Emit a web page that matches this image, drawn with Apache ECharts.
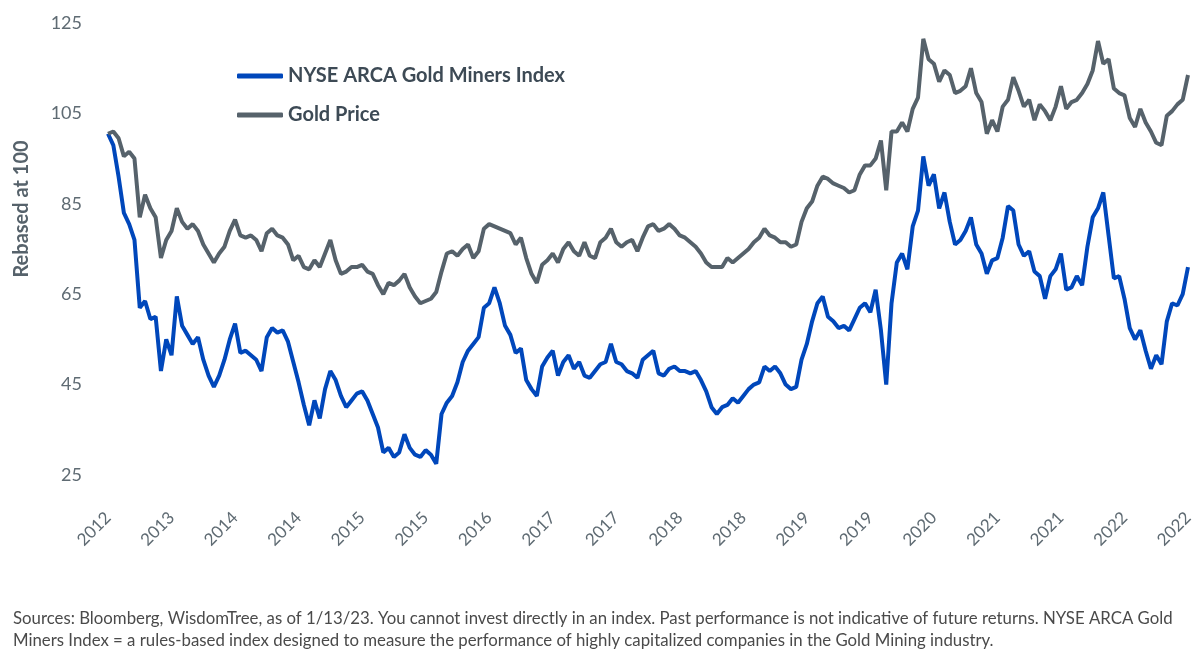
<!DOCTYPE html>
<html>
<head>
<meta charset="utf-8">
<script src="https://cdn.jsdelivr.net/npm/echarts@6/dist/echarts.min.js"></script>
<style>
  html, body { margin: 0; padding: 0; background: #fff; }
  #chart { width: 1200px; height: 657px; }
</style>
</head>
<body>
<div id="chart"></div>
<script>
// tick labels along the bottom (one every 12 points)
var xTickLabels = ['2012','2013','2014','2014','2015','2015','2016','2017','2017',
  '2018','2018','2019','2019','2020','2021','2021','2022','2022'];

// NYSE ARCA Gold Miners Index, rebased at 100
var minersIndex = [
  100.5, 98, 91, 83, 80.5, 77, 62, 63.5, 59.5, 60,
  48, 55, 51.5, 64.5, 58, 56, 54, 55.5, 50.5, 47,
  44.5, 47, 50.5, 55, 58.5, 52, 52.5, 51.5, 50.5, 48,
  55.5, 57.5, 56.5, 57, 54.5, 50, 45.5, 40.5, 36, 41.5,
  37.5, 44, 48, 46, 42.5, 40, 41.5, 43, 43.5, 41.5,
  38.5, 35.5, 30, 31, 29, 30, 34, 31, 29.5, 29,
  30.5, 29.5, 27.5, 38.5, 41, 42.5, 45.5, 50, 52.5, 54,
  55.5, 62, 63, 66.5, 63, 58, 56, 52, 53, 46,
  44, 42.5, 49, 51, 52.5, 47, 50, 51.5, 48.5, 50,
  47, 46.5, 48, 49.5, 50, 54, 50, 49.5, 48, 47.5,
  46.5, 50.5, 51.5, 52.5, 47.5, 47, 48.5, 49, 48, 48,
  47.5, 48, 46, 43.5, 40, 38.5, 40, 40.5, 42, 41,
  42.5, 44, 45, 45.5, 49, 48, 49, 47.5, 45, 44,
  44.5, 50.5, 54, 59, 63, 64.5, 60, 59, 57.5, 58,
  57, 59.5, 62, 63, 61, 66, 57, 45, 63, 72,
  74, 70.5, 80, 83.5, 95.5, 89, 91.5, 84, 87.5, 81,
  76, 77, 79, 82, 76, 74, 69.5, 72.5, 73, 77.5,
  84.5, 83.5, 76, 73.5, 74.5, 70, 69, 64, 69, 70.5,
  74, 66, 66.5, 69, 67, 75.5, 82, 84, 87.5, 78,
  68.5, 69, 64, 57.5, 55, 57, 52.5, 48.5, 51.5, 49.5,
  59, 63, 62.5, 65, 71
];

// Gold price, rebased at 100
var goldPrice = [
  100.5, 101, 99.5, 95.5, 96.5, 95, 82, 87, 84, 82,
  73, 77, 79, 84, 81, 79.5, 80.5, 79, 76, 74,
  72, 74, 75.5, 79, 81.5, 78, 77.5, 78, 77, 74.5,
  78.5, 79.5, 78, 77.5, 76, 72.5, 73.5, 71, 70.5, 72.5,
  71, 74, 77, 72.5, 69.5, 70, 71, 71, 71.5, 70,
  69.5, 67, 65, 67.5, 67, 68, 69.5, 66.5, 64.5, 63,
  63.5, 64, 65.5, 70, 74, 74.5, 73.5, 75, 76, 73,
  74.5, 79.5, 80.5, 80, 79.5, 79, 78.5, 76, 77.5, 73,
  69.5, 67.5, 71.5, 72.5, 74, 72, 75, 76.5, 74.5, 73.5,
  76.5, 73.5, 73, 76.5, 77.5, 79.5, 76.5, 75.5, 76.5, 77,
  74.5, 77.5, 80, 80.5, 79, 79.5, 80.5, 79.5, 78, 77.5,
  76.5, 75.5, 74, 72, 71, 71, 71, 73, 72, 73,
  74, 75, 76.5, 77.5, 79.5, 78, 77.5, 76.5, 76.5, 75.5,
  76, 81, 84, 85.5, 89, 91, 90.5, 89.5, 89, 88.5,
  87.5, 88, 91.5, 93.5, 93.5, 95, 99, 88, 101, 101,
  103, 101, 106, 108.5, 121.5, 117, 116, 112, 114.5, 113.5,
  109.5, 110, 111, 115, 109.5, 107.5, 100.5, 103.5, 101, 106.5,
  108, 113, 110, 106.5, 108, 103.5, 107, 105.5, 103.5, 106.5,
  111, 106, 107.5, 108, 109.5, 111.5, 114.5, 121, 116, 117,
  110.5, 109.5, 109, 104, 102, 106, 103, 101, 98.5, 98,
  104.5, 105.5, 107, 108, 113.5
];

var seriesNames = ['NYSE ARCA Gold Miners Index', 'Gold Price'];
var footnote = 'Sources: Bloomberg, WisdomTree, as of 1/13/23. You cannot invest directly in an index. Past performance is not indicative of future returns. NYSE ARCA Gold\n' +
  'Miners Index = a rules-based index designed to measure the performance of highly capitalized companies in the Gold Mining industry.';

var FONT = 'Lato, "Noto Sans", sans-serif';
var labelStep = (minersIndex.length - 1) / (xTickLabels.length - 1);

var chart = echarts.init(document.getElementById('chart'));

var option = {
  animation: false,
  textStyle: { fontFamily: FONT },
  title: {
    text: footnote,
    left: 8,
    top: 603,
    textStyle: { fontSize: 16.8, fontWeight: 'normal', color: '#4a4a4a', lineHeight: 22, fontFamily: FONT }
  },
  legend: {
    orient: 'vertical',
    left: 232,
    top: 61,
    itemWidth: 46,
    itemHeight: 5,
    itemGap: 19,
    icon: 'roundRect',
    textStyle: { fontSize: 20, fontWeight: 'bold', color: '#3d4a55', fontFamily: FONT },
    data: seriesNames
  },
  grid: { left: 108, right: 12, top: 23, bottom: 182 },
  xAxis: {
    type: 'value',
    min: 0,
    max: minersIndex.length - 1,
    interval: labelStep,
    axisLine: { show: false },
    axisTick: { show: false },
    splitLine: { show: false },
    axisLabel: {
      rotate: 45,
      margin: 40,
      fontSize: 17,
      color: '#5f6b73',
      showMinLabel: true,
      showMaxLabel: true,
      formatter: function (v) {
        var k = Math.round(v / labelStep);
        return xTickLabels[k] || '';
      }
    }
  },
  yAxis: {
    type: 'value',
    min: 25,
    max: 125,
    interval: 5,
    axisLine: { show: false },
    axisTick: { show: false },
    splitLine: { show: false },
    axisLabel: {
      margin: 26,
      fontSize: 18,
      color: '#5f6b73',
      formatter: function (v) {
        return (v - 25) % 20 === 0 ? String(v) : '';
      }
    }
  },
  graphic: [{
    type: 'text',
    x: 22,
    y: 209,
    rotation: Math.PI / 2,
    style: {
      text: 'Rebased at 100',
      fontSize: 20,
      fontWeight: 'bold',
      fontFamily: FONT,
      fill: '#56626b',
      textAlign: 'center',
      textVerticalAlign: 'middle'
    }
  }],
  series: [{
    name: seriesNames[0],
    type: 'line',
    symbol: 'none',
    color: '#0047bb',
    lineStyle: { width: 4, color: '#0047bb' },
    data: minersIndex.map(function (v, i) { return [i, v]; })
  }, {
    name: seriesNames[1],
    type: 'line',
    symbol: 'none',
    color: '#56626b',
    lineStyle: { width: 4, color: '#56626b' },
    data: goldPrice.map(function (v, i) { return [i, v]; })
  }]
};

chart.setOption(option);
</script>
</body>
</html>
